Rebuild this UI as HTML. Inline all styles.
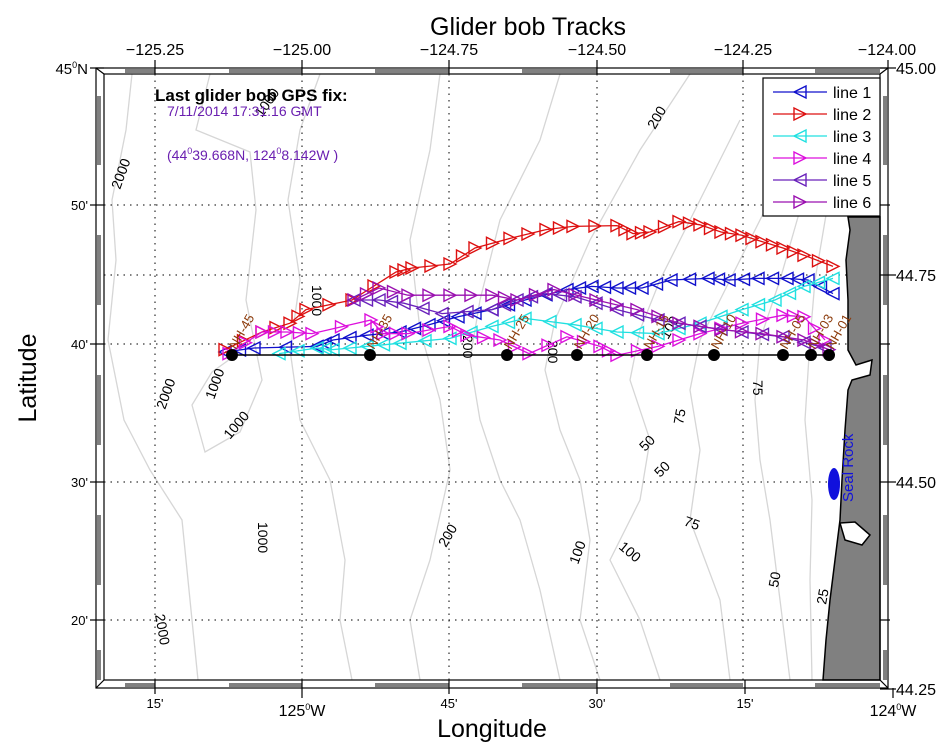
<!DOCTYPE html>
<html><head><meta charset="utf-8"><style>
html,body{margin:0;padding:0;background:#fff;}
svg{display:block;font-family:"Liberation Sans",sans-serif;}
</style></head><body>
<svg id="s" width="950" height="748" xmlns="http://www.w3.org/2000/svg">
<rect width="950" height="748" fill="#fff"/>
<g id="contours" fill="none" stroke="#d6d6d6" stroke-width="1.3">
<polyline points="132,74 126,130 112,200 116,260 108,340 124,420 150,470 182,520 190,600 198,680"/>
<polyline points="210,74 196,130 250,152 256,210 246,300 262,380 240,432 205,452 192,405 212,372 240,352"/>
<polyline points="320,74 300,130 288,200 300,280 290,350 300,420 330,480 345,560 340,620 352,680"/>
<polyline points="440,74 430,150 410,240 420,330 440,400 450,470 430,560 410,620 420,680"/>
<polyline points="560,74 540,140 500,220 480,300 470,360 480,420 500,480 520,520 540,590 560,680"/>
<polyline points="690,74 640,150 590,240 555,320 545,370 560,430 580,480 590,540 580,620 600,680"/>
<polyline points="740,120 700,200 660,280 640,330 630,380 650,440 640,500 610,560 640,620 660,680"/>
<polyline points="770,200 730,280 700,340 690,390 700,450 690,520 720,600 730,680"/>
<polyline points="800,210 780,280 760,340 755,400 760,460 770,520 780,600 790,680"/>
<polyline points="826,215 815,280 810,340 805,420 812,500 810,580 812,680"/>
</g>
<g id="grid" stroke="#000" stroke-width="1" stroke-dasharray="1.5,5" fill="none">
<line x1="155" y1="74" x2="155" y2="680"/><line x1="302" y1="74" x2="302" y2="680"/>
<line x1="449" y1="74" x2="449" y2="680"/><line x1="597" y1="74" x2="597" y2="680"/>
<line x1="743" y1="74" x2="743" y2="680"/>
<line x1="104" y1="205" x2="880" y2="205"/><line x1="104" y1="275" x2="880" y2="275"/>
<line x1="104" y1="344" x2="880" y2="344"/><line x1="104" y1="482" x2="880" y2="482"/>
<line x1="104" y1="620" x2="880" y2="620"/>
</g>
<path d="M848,217 L880,217 L880,680 L823,680 L826,640 L830,600 L835,560 L840,520 L842,480 L845,430 L848,390 L852,380 L870,375 L872,360 L856,365 L848,350 L848,300 L846,260 L850,230 Z" fill="#808080" stroke="#000" stroke-width="1.5"/>
<path d="M840,523 L855,522 L870,535 L862,545 L845,540 Z" fill="#fff" stroke="#000" stroke-width="1.5"/>
<g font-size="14" fill="#000">
<text transform="translate(120,190) rotate(-70)">2000</text>
<text transform="translate(262,118) rotate(-55)">1000</text>
<text transform="translate(655,130) rotate(-60)">200</text>
<text transform="translate(312,285) rotate(90)">1000</text>
<text transform="translate(165,410) rotate(-70)">2000</text>
<text transform="translate(214,400) rotate(-70)">1000</text>
<text transform="translate(230,440) rotate(-50)">1000</text>
<text transform="translate(463,335) rotate(90)">200</text>
<text transform="translate(548,340) rotate(90)">200</text>
<text transform="translate(668,340) rotate(-60)">100</text>
<text transform="translate(753,380) rotate(90)">75</text>
<text transform="translate(683,425) rotate(-80)">75</text>
<text transform="translate(645,452) rotate(-45)">50</text>
<text transform="translate(660,478) rotate(-45)">50</text>
<text transform="translate(683,525) rotate(20)">75</text>
<text transform="translate(258,522) rotate(90)">1000</text>
<text transform="translate(446,548) rotate(-60)">200</text>
<text transform="translate(578,565) rotate(-70)">100</text>
<text transform="translate(618,548) rotate(40)">100</text>
<text transform="translate(778,588) rotate(-80)">50</text>
<text transform="translate(826,605) rotate(-80)">25</text>
<text transform="translate(155,615) rotate(80)">2000</text>
</g>
<g id="tracks"></g>
<line x1="232" y1="355" x2="829" y2="355" stroke="#000" stroke-width="1.5"/>
<g fill="#000" id="st"></g>
<g font-size="13" fill="#8b3a0a" id="stl"></g>
<g fill="#1010dd"><ellipse cx="834" cy="484" rx="6" ry="16"/></g>
<text transform="translate(853,502) rotate(-90)" font-size="15" fill="#1010dd">Seal Rock</text>
<g fill="none" stroke="#000" stroke-width="1.2">
<rect x="96" y="68" width="792" height="620"/>
<rect x="104" y="74" width="776" height="606"/>
<line x1="96" y1="68" x2="104" y2="74"/><line x1="888" y1="68" x2="880" y2="74"/>
<line x1="96" y1="688" x2="104" y2="680"/><line x1="888" y1="688" x2="880" y2="680"/>
</g>
<g stroke="#000" stroke-width="1">
<path d="M125,70h30M229,70h73M375,70h74M522,70h75M670,70h73M815,70h65 M125,72h30M229,72h73M375,72h74M522,72h75M670,72h73M815,72h65"/>
<path d="M125,684h30M229,684h73M375,684h74M522,684h75M670,684h73M815,684h65 M125,686h30M229,686h73M375,686h74M522,686h75M670,686h73M815,686h65"/>
<path d="M98,96v69M98,235v70M98,375v70M98,515v70M98,650v30 M100,96v69M100,235v70M100,375v70M100,515v70M100,650v30"/>
<path d="M884,96v69M884,235v70M884,375v70M884,515v70M884,650v30 M886,96v69M886,235v70M886,375v70M886,515v70M886,650v30"/>
</g>
<g stroke="#000" stroke-width="1.2">
<line x1="155" y1="60" x2="155" y2="74"/><line x1="302" y1="60" x2="302" y2="74"/><line x1="449" y1="60" x2="449" y2="74"/><line x1="597" y1="60" x2="597" y2="74"/><line x1="743" y1="60" x2="743" y2="74"/><line x1="888" y1="60" x2="888" y2="68"/>
<line x1="155" y1="680" x2="155" y2="694"/><line x1="302" y1="680" x2="302" y2="698"/><line x1="449" y1="680" x2="449" y2="694"/><line x1="597" y1="680" x2="597" y2="694"/><line x1="745" y1="680" x2="745" y2="694"/><line x1="893" y1="688" x2="893" y2="698"/>
<line x1="90" y1="68" x2="104" y2="68"/><line x1="90" y1="205" x2="104" y2="205"/><line x1="90" y1="344" x2="104" y2="344"/><line x1="90" y1="482" x2="104" y2="482"/><line x1="90" y1="620" x2="104" y2="620"/>
<line x1="880" y1="68" x2="896" y2="68"/><line x1="880" y1="275" x2="896" y2="275"/><line x1="880" y1="482" x2="896" y2="482"/><line x1="880" y1="689" x2="896" y2="689"/><line x1="880" y1="205" x2="890" y2="205"/><line x1="880" y1="344" x2="890" y2="344"/><line x1="880" y1="620" x2="890" y2="620"/>
</g>
<text x="528" y="35" font-size="25" text-anchor="middle">Glider bob Tracks</text>
<g font-size="16" text-anchor="middle">
<text x="155" y="55">−125.25</text><text x="302" y="55">−125.00</text><text x="449" y="55">−124.75</text><text x="597" y="55">−124.50</text><text x="743" y="55">−124.25</text><text x="887" y="55">−124.00</text>
</g>
<g font-size="16">
<text x="896" y="74">45.00</text><text x="896" y="281">44.75</text><text x="896" y="488">44.50</text><text x="896" y="695">44.25</text>
</g>
<g font-size="13" text-anchor="end">
<text x="88" y="74" font-size="15">45<tspan dy="-6" font-size="9">0</tspan><tspan dy="6">N</tspan></text>
<text x="88" y="210">50'</text><text x="88" y="349">40'</text><text x="88" y="487">30'</text><text x="88" y="625">20'</text>
</g>
<g font-size="13" text-anchor="middle">
<text x="155" y="708">15'</text><text x="449" y="708">45'</text><text x="597" y="708">30'</text><text x="745" y="708">15'</text>
</g>
<text x="302" y="716" font-size="16" text-anchor="middle">125<tspan dy="-6" font-size="9">0</tspan><tspan dy="6">W</tspan></text>
<text x="893" y="716" font-size="16" text-anchor="middle">124<tspan dy="-6" font-size="9">0</tspan><tspan dy="6">W</tspan></text>
<text x="492" y="737" font-size="25" text-anchor="middle">Longitude</text>
<text transform="translate(36,378) rotate(-90)" font-size="25" text-anchor="middle">Latitude</text>
<text x="155" y="101" font-size="17" font-weight="bold">Last glider bob GPS fix:</text>
<text x="167" y="116" font-size="14" fill="#6a1fb0">7/11/2014 17:31:16 GMT</text>
<text x="167" y="160" font-size="14" fill="#6a1fb0">(44<tspan dy="-6" font-size="9">0</tspan><tspan dy="6">39.668N, 124</tspan><tspan dy="-6" font-size="9">0</tspan><tspan dy="6">8.142W )</tspan></text>
<rect x="763" y="78" width="117" height="138" fill="#fff" stroke="#000" stroke-width="1.2"/>
<g id="leg"></g>
</svg>
<script>
var NS="http://www.w3.org/2000/svg";
function el(t,a,p){var e=document.createElementNS(NS,t);for(var k in a)e.setAttribute(k,a[k]);p.appendChild(e);return e;}
function tri(x,y,dir,c,p){var s=6;var pts=dir<0?[x-s,y,x+s,y-s,x+s,y+s]:[x+s,y,x-s,y-s,x-s,y+s];el("polygon",{points:pts.join(","),fill:"none",stroke:c,"stroke-width":1.4},p);}
var T=document.getElementById("tracks");
var lines=[
["#1010cc",-1,[833,317,808,300,787,298,758,298,729,300,708,298,671,300,642,310,617,310,592,308,567,312,525,325,492,337,458,346,429,356,400,365,367,369,333,375,317,383,254,385,225,390]],
["#dd1010",1,[225,387,262,365,290,354,306,337,352,325,396,290,412,285,450,280,475,260,510,248,546,237,573,233,617,232,633,242,650,240,679,227,700,231,721,240,742,244,762,252,783,260,804,269,833,283]],
["#20e0e0",-1,[833,298,804,308,775,325,742,337,700,354,658,367,617,365,575,356,525,348,492,358,450,373,400,379,367,383,333,387,317,385,279,392]],
["#dd10dd",1,[229,392,262,365,287,365,312,367,371,350,383,367,408,367,450,358,467,369,500,375,529,392,567,371,600,383,617,394,658,383,700,367,742,354,783,344,804,346,825,375]],
["#6a22bb",-1,[825,385,783,371,742,365,700,358,658,350,617,337,575,321,546,317,517,325,492,337,442,342,404,329,379,325,354,325]],
["#9a10b0",1,[354,325,379,310,408,319,450,319,492,319,517,325,554,312,596,325,637,337,679,354,721,362,762,367,804,375,829,387]]];
lines.forEach(function(L){var p=L[2].slice();for(var i=1;i<p.length;i+=2)p[i]=200+(p[i]-200)*0.8;
el("polyline",{points:p.join(","),fill:"none",stroke:L[0],"stroke-width":1.3},T);
for(var i=0;i<p.length;i+=2){tri(p[i],p[i+1],L[1],L[0],T);if(i+2<p.length){tri((p[i]+p[i+2])/2,(p[i+1]+p[i+3])/2,L[1],L[0],T);}}});
var S=document.getElementById("st");[232,370,507,577,647,714,783,811,829].forEach(function(x){el("circle",{cx:x,cy:355,r:6},S);});
var SL=document.getElementById("stl");[["NH-45",232],["NH-35",370],["NH-25",507],["NH-20",577],["NH-15",647],["NH-10",714],["NH-05",783],["NH-03",811],["NH-01",829]].forEach(function(a){var t=el("text",{transform:"translate("+(a[1]+4)+",350) rotate(-60)"},SL);t.textContent=a[0];});
var G=document.getElementById("leg");
lines.forEach(function(L,i){var y=92+i*22;el("line",{x1:773,y1:y,x2:827,y2:y,stroke:L[0],"stroke-width":1.3},G);tri(800,y,L[1],L[0],G);var t=el("text",{x:833,y:y+6,"font-size":16},G);t.textContent="line "+(i+1);});
</script>
</body></html>
